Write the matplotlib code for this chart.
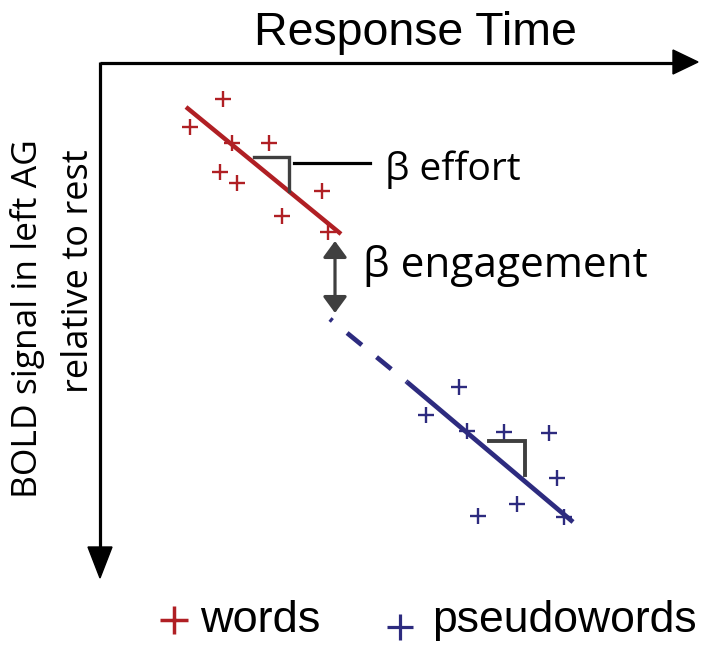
import matplotlib
matplotlib.use("Agg")
import matplotlib.pyplot as plt
from matplotlib.patches import Polygon

plt.rcParams["lines.scale_dashes"] = False

# -----------------------------
# data (schematic, picture units)
# -----------------------------
words_rt = [223, 190, 232, 269, 220, 237, 322, 282, 328]
words_bold = [99, 127, 143, 143, 172, 183, 191, 216, 232]
pseudo_rt = [459, 426, 467, 504, 549, 557, 517, 478, 564]
pseudo_bold = [387, 415, 431, 432, 433, 478, 504, 516, 517]

words_fit_rt = [186, 341]
words_fit_bold = [107, 234]
pseudo_fit_rt = [407, 573]
pseudo_fit_bold = [382, 522]
# extrapolated part of the pseudoword fit (dashed)
pseudo_ext_rt = [330, 407]
pseudo_ext_bold = [319, 382]

red = "#b01f24"
blue = "#2d2b7f"
gray = "#3f3f3f"

fig = plt.figure(figsize=(7.14, 6.51), dpi=100)
ax = fig.add_axes([0, 0, 1, 1])
ax.set_xlim(0, 714)
ax.set_ylim(651, 0)
ax.axis("off")

# -----------------------------
# axes arrows
# -----------------------------
ax.plot([100, 675], [63, 63], color="black", lw=2.3, solid_capstyle="butt")
ax.plot([100, 100], [62, 550], color="black", lw=2.3, solid_capstyle="butt")
ax.add_patch(Polygon([[673, 50], [698, 62], [673, 74]], closed=True, color="black"))
ax.add_patch(Polygon([[88, 547], [112, 547], [100, 578]], closed=True, color="black"))

ax.text(254, 45, "Response Time", fontsize=33.5, family="Liberation Sans",
        ha="left", va="baseline")
ax.text(37, 498, "BOLD signal in left AG", fontsize=25.5, family="Open Sans",
        rotation=90, rotation_mode="anchor", ha="left", va="baseline")
ax.text(88, 393, "relative to rest", fontsize=26, family="Open Sans",
        rotation=90, rotation_mode="anchor", ha="left", va="baseline")

# -----------------------------
# fits and points
# -----------------------------
ax.plot(words_fit_rt, words_fit_bold, color=red, lw=3.2, solid_capstyle="butt")
ax.plot(pseudo_fit_rt, pseudo_fit_bold, color=blue, lw=3.4, solid_capstyle="butt")
ax.plot(pseudo_ext_rt, pseudo_ext_bold, color=blue, lw=3.4,
        linestyle=(11.5, (13.7, 13.7)), dash_capstyle="butt")

ax.plot(words_rt, words_bold, "+", color=red, ms=12, mew=1.7)
ax.plot(pseudo_rt, pseudo_bold, "+", color=blue, ms=12, mew=1.7)

# slope brackets
ax.plot([254, 289, 289], [157, 157, 191], color=gray, lw=2.4, solid_joinstyle="miter")
ax.plot([489, 525, 525], [441, 441, 475], color=gray, lw=2.8, solid_joinstyle="miter")
ax.plot([294, 370], [163, 163], color="black", lw=2.3)

ax.text(385, 180, "\u03b2 effort", fontsize=28, family="Open Sans",
        ha="left", va="baseline")

# engagement arrow
ax.annotate("", xy=(335, 313), xytext=(335, 241),
            arrowprops=dict(arrowstyle="<|-|>,head_length=0.45,head_width=0.33",
                            color=gray, lw=2.3, mutation_scale=22,
                            shrinkA=0, shrinkB=0))
ax.text(363, 277, "\u03b2 engagement", fontsize=30.5, family="Open Sans",
        ha="left", va="baseline")

# -----------------------------
# legend
# -----------------------------
ax.plot([174], [620], "+", color=red, ms=20, mew=2.5)
ax.text(200, 632, "words", fontsize=32.5, family="Liberation Sans",
        ha="left", va="baseline")
ax.plot([400], [627], "+", color=blue, ms=19, mew=2.3)
ax.text(432, 632, "pseudowords", fontsize=32, family="Liberation Sans",
        ha="left", va="baseline")

fig.savefig("out.png", dpi=100)
